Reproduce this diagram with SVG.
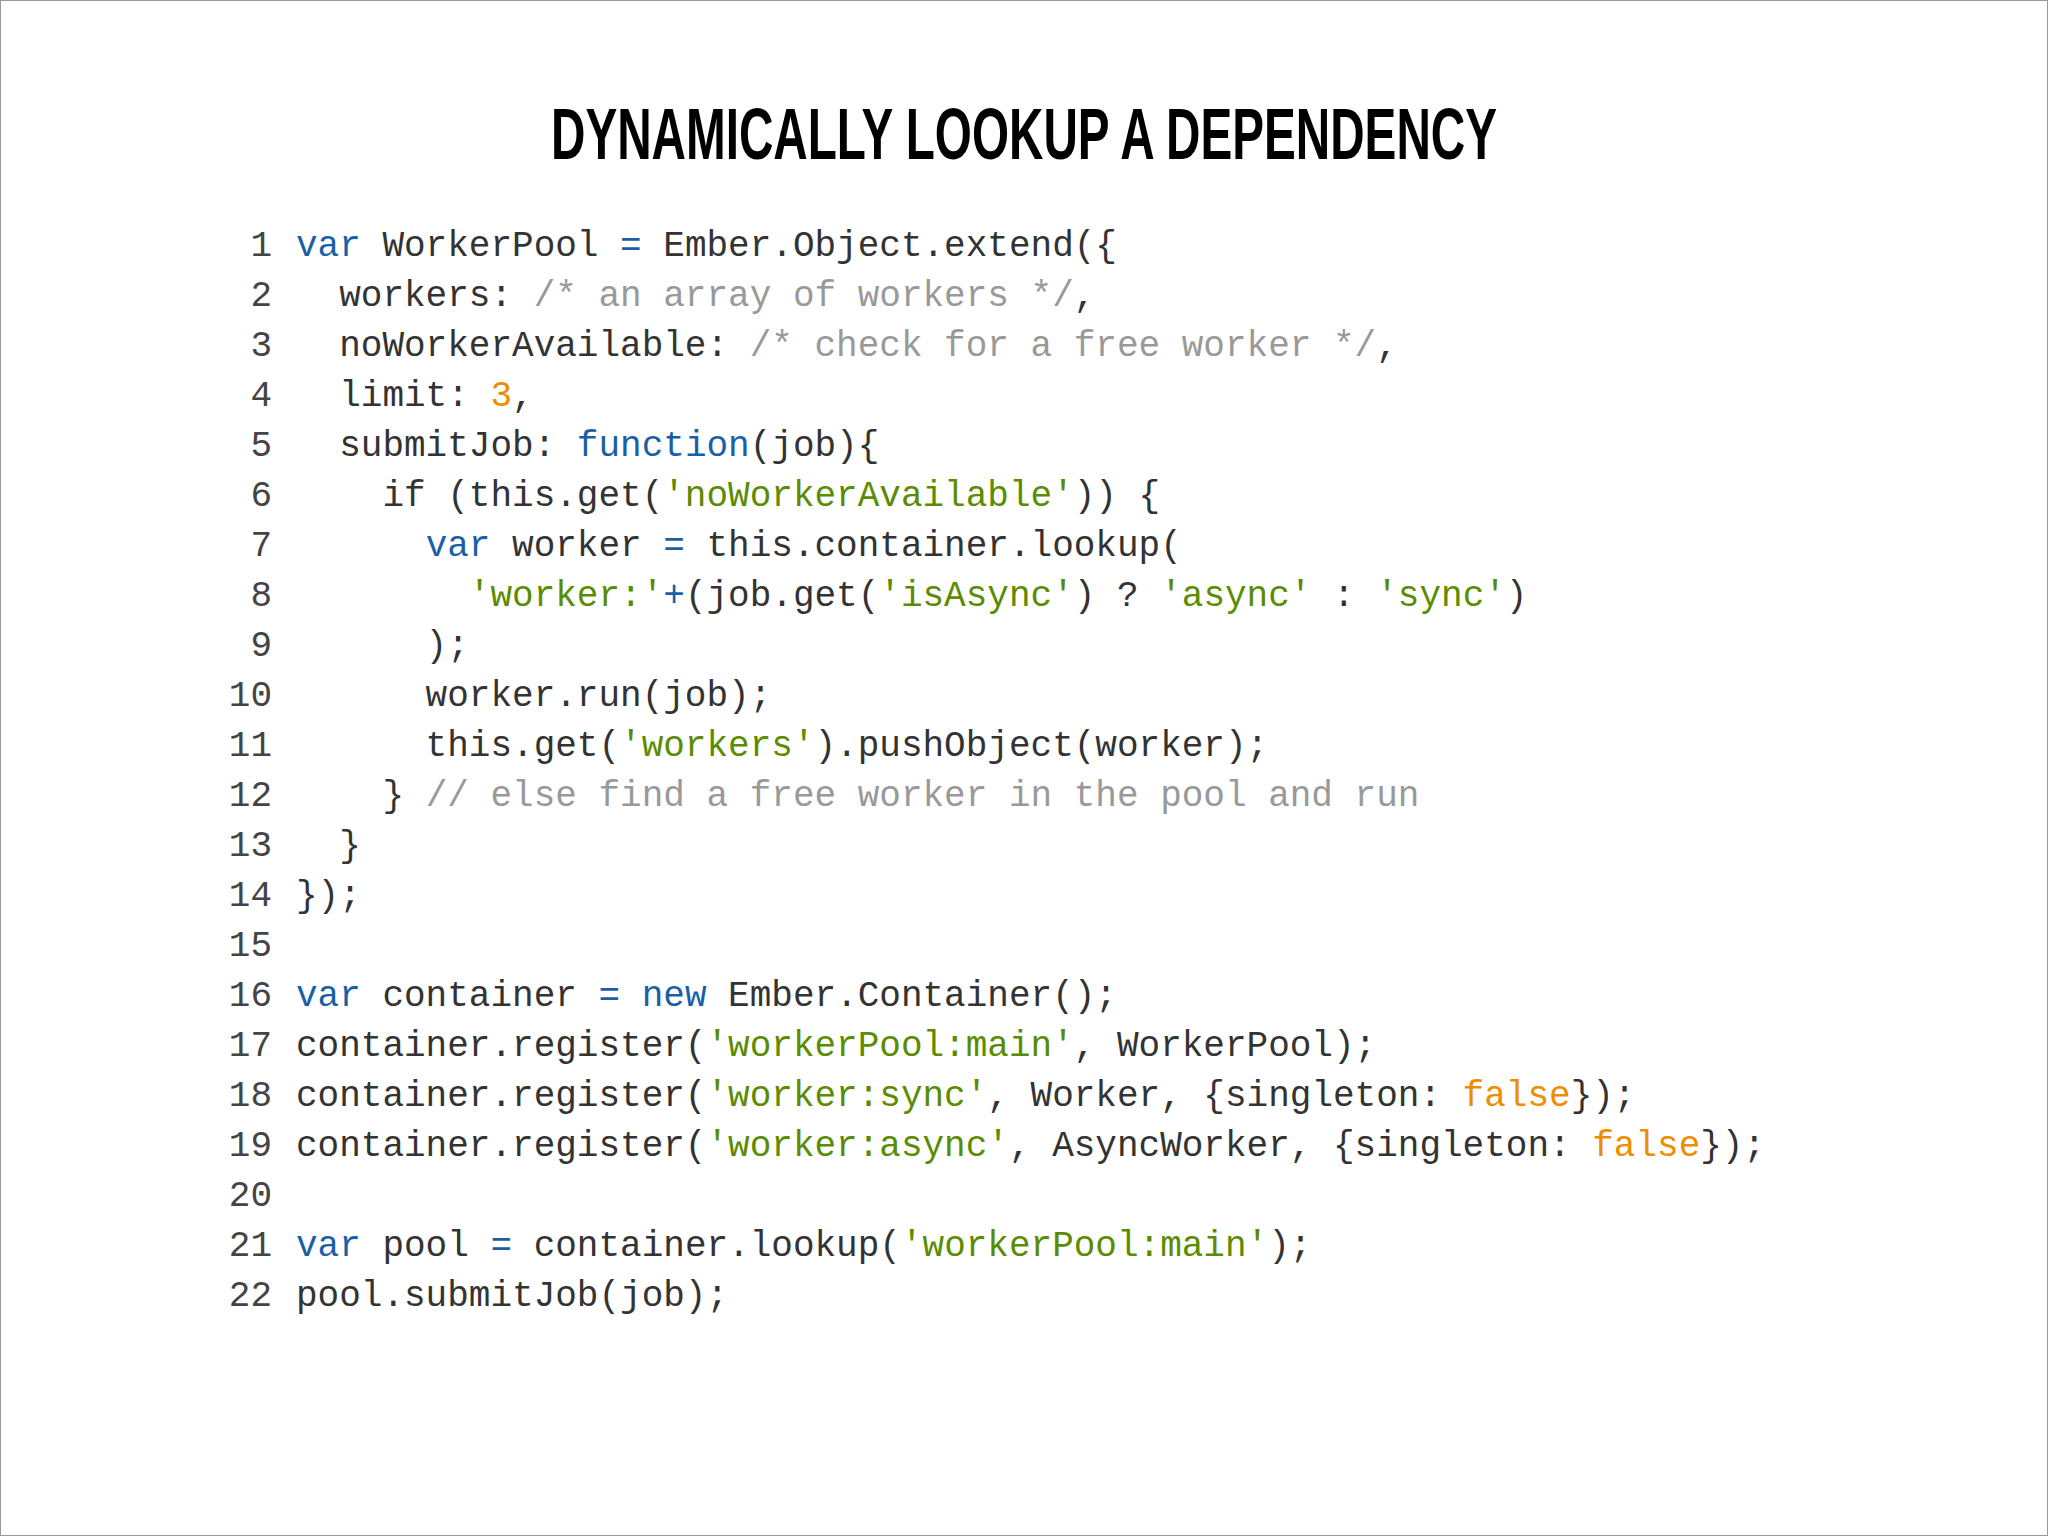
<svg xmlns="http://www.w3.org/2000/svg" width="2048" height="1536" viewBox="0 0 2048 1536">
<style>
.c{font-family:"Liberation Mono","DejaVu Sans Mono",monospace;font-size:36px;fill:#333;white-space:pre}
.n{font-family:"Liberation Mono","DejaVu Sans Mono",monospace;font-size:36px;fill:#444;text-anchor:end}
.k{fill:#1a5fa6}.s{fill:#5b8c00}.o{fill:#f08c00}.m{fill:#999}
.t{font-family:"Liberation Sans",Arial,sans-serif;font-weight:bold;font-size:72px;fill:#000}
</style>
<rect x="0.5" y="0.5" width="2047" height="1535" fill="#fff" stroke="#999"/>
<text class="t" x="1024" y="159" text-anchor="middle" textLength="946" lengthAdjust="spacingAndGlyphs">DYNAMICALLY LOOKUP A DEPENDENCY</text>
<g id="linenums">
<text class="n" x="272" y="256">1</text><text class="n" x="272" y="306">2</text><text class="n" x="272" y="356">3</text><text class="n" x="272" y="406">4</text><text class="n" x="272" y="456">5</text><text class="n" x="272" y="506">6</text><text class="n" x="272" y="556">7</text><text class="n" x="272" y="606">8</text><text class="n" x="272" y="656">9</text><text class="n" x="272" y="706">10</text><text class="n" x="272" y="756">11</text><text class="n" x="272" y="806">12</text><text class="n" x="272" y="856">13</text><text class="n" x="272" y="906">14</text><text class="n" x="272" y="956">15</text><text class="n" x="272" y="1006">16</text><text class="n" x="272" y="1056">17</text><text class="n" x="272" y="1106">18</text><text class="n" x="272" y="1156">19</text><text class="n" x="272" y="1206">20</text><text class="n" x="272" y="1256">21</text><text class="n" x="272" y="1306">22</text>
</g>
<g id="code">
<text class="c" xml:space="preserve" x="296" y="256"><tspan class="k">var</tspan> WorkerPool <tspan class="k">=</tspan> Ember.Object.extend({</text>
<text class="c" xml:space="preserve" x="296" y="306">  workers: <tspan class="m">/* an array of workers */</tspan>,</text>
<text class="c" xml:space="preserve" x="296" y="356">  noWorkerAvailable: <tspan class="m">/* check for a free worker */</tspan>,</text>
<text class="c" xml:space="preserve" x="296" y="406">  limit: <tspan class="o">3</tspan>,</text>
<text class="c" xml:space="preserve" x="296" y="456">  submitJob: <tspan class="k">function</tspan>(job){</text>
<text class="c" xml:space="preserve" x="296" y="506">    if (this.get(<tspan class="s">'noWorkerAvailable'</tspan>)) {</text>
<text class="c" xml:space="preserve" x="296" y="556">      <tspan class="k">var</tspan> worker <tspan class="k">=</tspan> this.container.lookup(</text>
<text class="c" xml:space="preserve" x="296" y="606">        <tspan class="s">'worker:'</tspan><tspan class="k">+</tspan>(job.get(<tspan class="s">'isAsync'</tspan>) ? <tspan class="s">'async'</tspan> : <tspan class="s">'sync'</tspan>)</text>
<text class="c" xml:space="preserve" x="296" y="656">      );</text>
<text class="c" xml:space="preserve" x="296" y="706">      worker.run(job);</text>
<text class="c" xml:space="preserve" x="296" y="756">      this.get(<tspan class="s">'workers'</tspan>).pushObject(worker);</text>
<text class="c" xml:space="preserve" x="296" y="806">    } <tspan class="m">// else find a free worker in the pool and run</tspan></text>
<text class="c" xml:space="preserve" x="296" y="856">  }</text>
<text class="c" xml:space="preserve" x="296" y="906">});</text>
<text class="c" xml:space="preserve" x="296" y="1006"><tspan class="k">var</tspan> container <tspan class="k">=</tspan> <tspan class="k">new</tspan> Ember.Container();</text>
<text class="c" xml:space="preserve" x="296" y="1056">container.register(<tspan class="s">'workerPool:main'</tspan>, WorkerPool);</text>
<text class="c" xml:space="preserve" x="296" y="1106">container.register(<tspan class="s">'worker:sync'</tspan>, Worker, {singleton: <tspan class="o">false</tspan>});</text>
<text class="c" xml:space="preserve" x="296" y="1156">container.register(<tspan class="s">'worker:async'</tspan>, AsyncWorker, {singleton: <tspan class="o">false</tspan>});</text>
<text class="c" xml:space="preserve" x="296" y="1256"><tspan class="k">var</tspan> pool <tspan class="k">=</tspan> container.lookup(<tspan class="s">'workerPool:main'</tspan>);</text>
<text class="c" xml:space="preserve" x="296" y="1306">pool.submitJob(job);</text>
</g>
</svg>
